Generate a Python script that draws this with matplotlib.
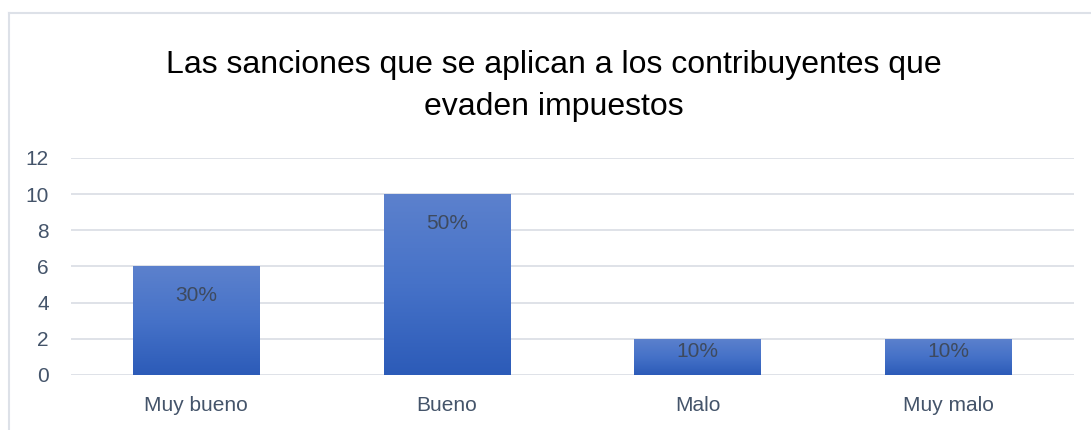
import matplotlib.pyplot as plt
import numpy as np
from matplotlib.colors import LinearSegmentedColormap
from matplotlib.lines import Line2D

categorias = ["Muy bueno", "Bueno", "Malo", "Muy malo"]
valores = [6, 10, 2, 2]
etiquetas = ["30%", "50%", "10%", "10%"]
ticks_y = [0, 2, 4, 6, 8, 10, 12]
titulo = "Las sanciones que se aplican a los contribuyentes que\nevaden impuestos"

plt.rcParams['font.family'] = ['Liberation Sans', 'DejaVu Sans']

fig = plt.figure(figsize=(10.91, 4.30), dpi=100)
ax = fig.add_axes([0.0651, 0.128, 0.919, 0.505])

x = np.arange(len(categorias))
bars = ax.bar(x, valores, width=0.505, color='none', zorder=3)

# degradado vertical en cada barra
cmap = LinearSegmentedColormap.from_list("azul", ["#2C5BB8", "#4672C8", "#5C81CD"])
grad = np.linspace(0, 1, 256).reshape(-1, 1)
for b in bars:
    x0, y0 = b.get_x(), b.get_y()
    w, h = b.get_width(), b.get_height()
    im = ax.imshow(grad, extent=[x0, x0 + w, y0, y0 + h], origin='lower',
                   cmap=cmap, aspect='auto', zorder=3)
    im.set_clip_path(b)

# etiquetas dentro de la barra, cerca del extremo
desplaz = [-21, -21, -9, -9]
for xi, v, lab, d in zip(x, valores, etiquetas, desplaz):
    ax.annotate(lab, (xi, v), xytext=(0, d), textcoords='offset points',
                ha='center', va='center', fontsize=15, color='#3E4A5E', zorder=4)

ax.set_xlim(-0.5, len(categorias) - 0.5)
ax.set_ylim(0, 12)
ax.set_yticks(ticks_y)
ax.set_xticks(x)
ax.set_xticklabels(categorias)
ax.yaxis.grid(True, color='#D9DDE4', linewidth=1.2, zorder=0)
ax.set_axisbelow(True)
for s in ax.spines.values():
    s.set_visible(False)
ax.tick_params(axis='both', length=0, labelsize=15, labelcolor='#44546A')
ax.tick_params(axis='x', pad=15)
ax.tick_params(axis='y', pad=16)

fig.text(0.508, 0.800, titulo, ha='center', va='center', fontsize=23,
         color='black', linespacing=1.5)

# borde del gráfico
fig.add_artist(Line2D([9 / 1091, 9 / 1091], [0, 1 - 13 / 430],
                      transform=fig.transFigure, color='#DDE1E8', linewidth=1.5))
fig.add_artist(Line2D([9 / 1091, 1], [1 - 13 / 430, 1 - 13 / 430],
                      transform=fig.transFigure, color='#DDE1E8', linewidth=1.5))

fig.savefig("out.png", dpi=100)
